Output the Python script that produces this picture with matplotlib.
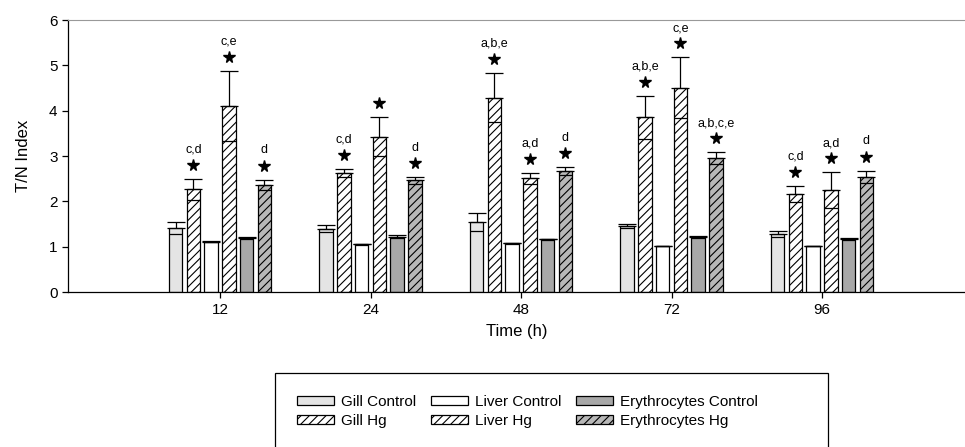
import matplotlib
matplotlib.use("Agg")
import matplotlib.pyplot as plt
import matplotlib.transforms as mtrans
from matplotlib.patches import Rectangle
import numpy as np

plt.rcParams['font.family'] = ['Liberation Sans', 'DejaVu Sans']
plt.rcParams['hatch.linewidth'] = 0.8

times = ["12", "24", "48", "72", "96"]
series = ["Gill Control", "Gill Hg", "Liver Control", "Liver Hg",
          "Erythrocytes Control", "Erythrocytes Hg"]

gill_control = [1.42, 1.40, 1.54, 1.46, 1.28]
gill_control_err = [0.13, 0.07, 0.20, 0.05, 0.07]
gill_hg = [2.27, 2.62, 4.29, 3.85, 2.16]
gill_hg_err = [0.23, 0.09, 0.54, 0.47, 0.18]
liver_control = [1.11, 1.05, 1.07, 1.02, 1.02]
liver_control_err = [0.01, 0.01, 0.02, 0.0, 0.0]
liver_hg = [4.10, 3.43, 2.51, 4.51, 2.25]
liver_hg_err = [0.78, 0.43, 0.12, 0.67, 0.39]
ery_control = [1.19, 1.22, 1.16, 1.21, 1.17]
ery_control_err = [0.02, 0.03, 0.02, 0.02, 0.03]
ery_hg = [2.36, 2.46, 2.67, 2.95, 2.54]
ery_hg_err = [0.12, 0.08, 0.08, 0.13, 0.14]

gill_hg_sig = ["c,d", "c,d", "a,b,e", "a,b,e", "c,d"]
liver_hg_sig = ["c,e", "", "a,d", "c,e", "a,d"]
ery_hg_sig = ["d", "d", "d", "a,b,c,e", "d"]

values = [gill_control, gill_hg, liver_control, liver_hg, ery_control, ery_hg]
errors = [gill_control_err, gill_hg_err, liver_control_err, liver_hg_err,
          ery_control_err, ery_hg_err]
sigs = [None, gill_hg_sig, None, liver_hg_sig, None, ery_hg_sig]

faces = ["#e4e4e4", "white", "white", "white", "#a8a8a8", "#b8b8b8"]
hatches = [None, "////", None, "////", None, "////"]

fig = plt.figure(figsize=(9.65, 4.47), dpi=100)
ax = fig.add_axes([68/965, 1-292/447, (965-68)/965, (292-20)/447])

x = np.arange(len(times))
step = 0.118
width = 0.09
handles = []
star_trans = mtrans.offset_copy(ax.transData, fig=fig, x=0, y=10, units="points")
for i, (vals, errs, fc, h) in enumerate(zip(values, errors, faces, hatches)):
    pos = x + (i - 2.5) * step
    b = ax.bar(pos, vals, width, color=fc, edgecolor="black", linewidth=0.9,
               hatch=h, zorder=2, label=series[i])
    handles.append(b)
    vals = np.array(vals)
    errs = np.array(errs)
    ax.errorbar(pos, vals, yerr=[np.zeros_like(errs), errs], fmt="none",
                ecolor="black", elinewidth=0.9, capsize=6.3, capthick=0.9, zorder=3)
    ax.hlines(vals - errs, pos - width/2, pos + width/2, color="black",
              linewidth=0.9, zorder=3)
    if sigs[i] is not None:
        tops = vals + errs
        ax.plot(pos, tops, linestyle="none", marker="*", markersize=8.5,
                color="black", transform=star_trans, zorder=4)
        for p, t, s in zip(pos, tops, sigs[i]):
            ax.annotate(s, xy=(p, t), xytext=(0, 21), textcoords="offset points",
                        ha="center", va="center", fontsize=9)

ax.set_xlim(-1.01, 4.95)
ax.set_ylim(0, 6)
ax.set_xticks(x)
ax.set_xticklabels(times, fontsize=11)
ax.set_yticks(range(7))
ax.tick_params(axis="y", labelsize=11, direction="out", length=4, width=0.9)
ax.tick_params(axis="x", direction="out", length=4, width=0.9, pad=4)
ax.spines["right"].set_visible(False)
ax.spines["top"].set_color("#999999")
ax.spines["left"].set_linewidth(0.9)
ax.spines["bottom"].set_linewidth(0.9)
ax.set_xlabel("Time (h)", fontsize=12, labelpad=5)
ax.set_ylabel("T/N Index", fontsize=12, labelpad=13)

# legend box
fig.patches.append(Rectangle((275/965, -0.01), (828-275)/965, (447-373)/447 + 0.01,
                             transform=fig.transFigure, fill=False,
                             edgecolor="black", linewidth=0.9))
leg = fig.legend(handles=handles, loc="upper left",
                 bbox_to_anchor=(297/965, 1-395/447),
                 ncol=3, fontsize=11, frameon=False,
                 handlelength=2.4, handleheight=0.55,
                 columnspacing=0.95, handletextpad=0.5, borderpad=0.0,
                 labelspacing=0.3, borderaxespad=0)

fig.savefig("out.png", dpi=100)
